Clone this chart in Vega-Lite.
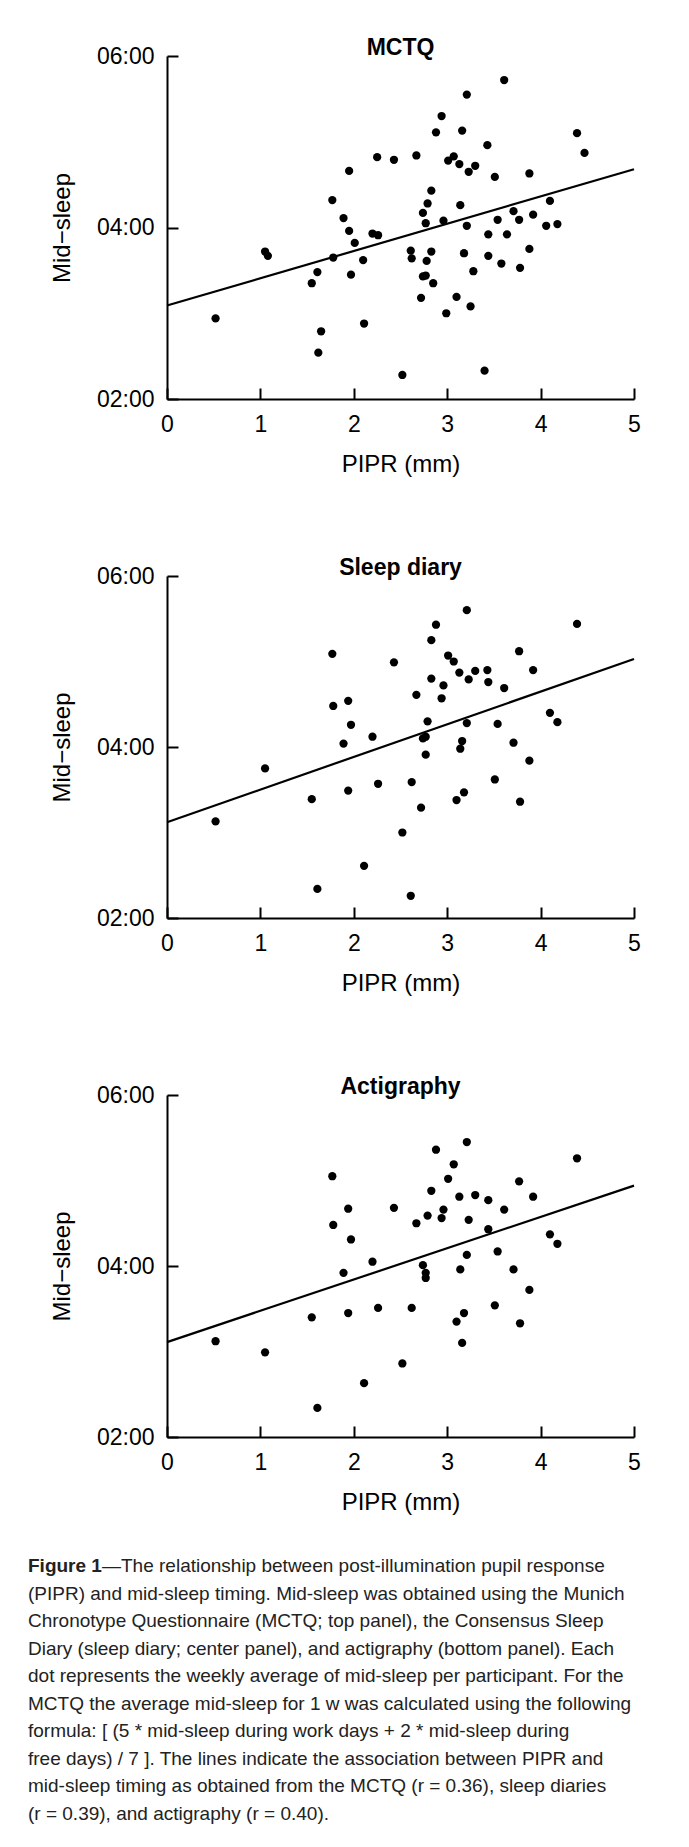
{
  "$schema": "https://vega.github.io/schema/vega-lite/v6.json",
  "background": "white",
  "padding": {"left": 28, "top": 37, "right": 8, "bottom": 6},
  "datasets": {
    "points": [
      {"method": "MCTQ", "pipr": 0.52, "mid": 2.94},
      {"method": "MCTQ", "pipr": 1.05, "mid": 3.72},
      {"method": "MCTQ", "pipr": 1.08, "mid": 3.67},
      {"method": "MCTQ", "pipr": 1.55, "mid": 3.35},
      {"method": "MCTQ", "pipr": 1.61, "mid": 3.48},
      {"method": "MCTQ", "pipr": 1.65, "mid": 2.79},
      {"method": "MCTQ", "pipr": 1.62, "mid": 2.54},
      {"method": "MCTQ", "pipr": 1.77, "mid": 4.32},
      {"method": "MCTQ", "pipr": 1.78, "mid": 3.65},
      {"method": "MCTQ", "pipr": 1.89, "mid": 4.11},
      {"method": "MCTQ", "pipr": 1.95, "mid": 4.66},
      {"method": "MCTQ", "pipr": 1.95, "mid": 3.96},
      {"method": "MCTQ", "pipr": 2.01, "mid": 3.82},
      {"method": "MCTQ", "pipr": 1.97, "mid": 3.45},
      {"method": "MCTQ", "pipr": 2.10, "mid": 3.62},
      {"method": "MCTQ", "pipr": 2.11, "mid": 2.88},
      {"method": "MCTQ", "pipr": 2.20, "mid": 3.93},
      {"method": "MCTQ", "pipr": 2.26, "mid": 3.91},
      {"method": "MCTQ", "pipr": 2.25, "mid": 4.82},
      {"method": "MCTQ", "pipr": 2.43, "mid": 4.79},
      {"method": "MCTQ", "pipr": 2.52, "mid": 2.28},
      {"method": "MCTQ", "pipr": 2.67, "mid": 4.84},
      {"method": "MCTQ", "pipr": 2.61, "mid": 3.73},
      {"method": "MCTQ", "pipr": 2.62, "mid": 3.64},
      {"method": "MCTQ", "pipr": 2.83, "mid": 4.43},
      {"method": "MCTQ", "pipr": 2.79, "mid": 4.28},
      {"method": "MCTQ", "pipr": 2.74, "mid": 4.17},
      {"method": "MCTQ", "pipr": 2.77, "mid": 4.05},
      {"method": "MCTQ", "pipr": 2.83, "mid": 3.72},
      {"method": "MCTQ", "pipr": 2.78, "mid": 3.61},
      {"method": "MCTQ", "pipr": 2.74, "mid": 3.43},
      {"method": "MCTQ", "pipr": 2.77, "mid": 3.44},
      {"method": "MCTQ", "pipr": 2.85, "mid": 3.35},
      {"method": "MCTQ", "pipr": 2.72, "mid": 3.18},
      {"method": "MCTQ", "pipr": 2.88, "mid": 5.11},
      {"method": "MCTQ", "pipr": 2.94, "mid": 5.30},
      {"method": "MCTQ", "pipr": 2.96, "mid": 4.08},
      {"method": "MCTQ", "pipr": 2.99, "mid": 3.00},
      {"method": "MCTQ", "pipr": 3.10, "mid": 3.19},
      {"method": "MCTQ", "pipr": 3.01, "mid": 4.78},
      {"method": "MCTQ", "pipr": 3.07, "mid": 4.83},
      {"method": "MCTQ", "pipr": 3.13, "mid": 4.74},
      {"method": "MCTQ", "pipr": 3.16, "mid": 5.13},
      {"method": "MCTQ", "pipr": 3.21, "mid": 5.55},
      {"method": "MCTQ", "pipr": 3.14, "mid": 4.26},
      {"method": "MCTQ", "pipr": 3.21, "mid": 4.02},
      {"method": "MCTQ", "pipr": 3.18, "mid": 3.70},
      {"method": "MCTQ", "pipr": 3.25, "mid": 3.08},
      {"method": "MCTQ", "pipr": 3.28, "mid": 3.49},
      {"method": "MCTQ", "pipr": 3.23, "mid": 4.65},
      {"method": "MCTQ", "pipr": 3.30, "mid": 4.72},
      {"method": "MCTQ", "pipr": 3.40, "mid": 2.33},
      {"method": "MCTQ", "pipr": 3.43, "mid": 4.96},
      {"method": "MCTQ", "pipr": 3.44, "mid": 3.92},
      {"method": "MCTQ", "pipr": 3.44, "mid": 3.67},
      {"method": "MCTQ", "pipr": 3.51, "mid": 4.59},
      {"method": "MCTQ", "pipr": 3.54, "mid": 4.09},
      {"method": "MCTQ", "pipr": 3.58, "mid": 3.58},
      {"method": "MCTQ", "pipr": 3.61, "mid": 5.72},
      {"method": "MCTQ", "pipr": 3.64, "mid": 3.92},
      {"method": "MCTQ", "pipr": 3.71, "mid": 4.19},
      {"method": "MCTQ", "pipr": 3.77, "mid": 4.09},
      {"method": "MCTQ", "pipr": 3.78, "mid": 3.53},
      {"method": "MCTQ", "pipr": 3.88, "mid": 4.63},
      {"method": "MCTQ", "pipr": 3.88, "mid": 3.75},
      {"method": "MCTQ", "pipr": 3.92, "mid": 4.15},
      {"method": "MCTQ", "pipr": 4.06, "mid": 4.02},
      {"method": "MCTQ", "pipr": 4.10, "mid": 4.31},
      {"method": "MCTQ", "pipr": 4.18, "mid": 4.04},
      {"method": "MCTQ", "pipr": 4.39, "mid": 5.10},
      {"method": "MCTQ", "pipr": 4.47, "mid": 4.87},

      {"method": "Diary", "pipr": 0.52, "mid": 3.13},
      {"method": "Diary", "pipr": 1.05, "mid": 3.75},
      {"method": "Diary", "pipr": 1.55, "mid": 3.39},
      {"method": "Diary", "pipr": 1.61, "mid": 2.34},
      {"method": "Diary", "pipr": 1.77, "mid": 5.09},
      {"method": "Diary", "pipr": 1.78, "mid": 4.48},
      {"method": "Diary", "pipr": 1.94, "mid": 4.54},
      {"method": "Diary", "pipr": 1.97, "mid": 4.26},
      {"method": "Diary", "pipr": 1.89, "mid": 4.04},
      {"method": "Diary", "pipr": 1.94, "mid": 3.49},
      {"method": "Diary", "pipr": 2.20, "mid": 4.12},
      {"method": "Diary", "pipr": 2.26, "mid": 3.57},
      {"method": "Diary", "pipr": 2.11, "mid": 2.61},
      {"method": "Diary", "pipr": 2.43, "mid": 4.99},
      {"method": "Diary", "pipr": 2.52, "mid": 3.00},
      {"method": "Diary", "pipr": 2.62, "mid": 3.59},
      {"method": "Diary", "pipr": 2.61, "mid": 2.26},
      {"method": "Diary", "pipr": 2.67, "mid": 4.61},
      {"method": "Diary", "pipr": 2.83, "mid": 5.25},
      {"method": "Diary", "pipr": 2.88, "mid": 5.43},
      {"method": "Diary", "pipr": 2.83, "mid": 4.80},
      {"method": "Diary", "pipr": 2.79, "mid": 4.30},
      {"method": "Diary", "pipr": 2.74, "mid": 4.10},
      {"method": "Diary", "pipr": 2.77, "mid": 4.12},
      {"method": "Diary", "pipr": 2.77, "mid": 3.91},
      {"method": "Diary", "pipr": 2.72, "mid": 3.29},
      {"method": "Diary", "pipr": 2.94, "mid": 4.57},
      {"method": "Diary", "pipr": 2.96, "mid": 4.72},
      {"method": "Diary", "pipr": 3.01, "mid": 5.07},
      {"method": "Diary", "pipr": 3.07, "mid": 5.00},
      {"method": "Diary", "pipr": 3.13, "mid": 4.87},
      {"method": "Diary", "pipr": 3.21, "mid": 5.60},
      {"method": "Diary", "pipr": 3.23, "mid": 4.79},
      {"method": "Diary", "pipr": 3.30, "mid": 4.89},
      {"method": "Diary", "pipr": 3.21, "mid": 4.28},
      {"method": "Diary", "pipr": 3.16, "mid": 4.07},
      {"method": "Diary", "pipr": 3.14, "mid": 3.98},
      {"method": "Diary", "pipr": 3.18, "mid": 3.47},
      {"method": "Diary", "pipr": 3.10, "mid": 3.38},
      {"method": "Diary", "pipr": 3.43, "mid": 4.90},
      {"method": "Diary", "pipr": 3.44, "mid": 4.76},
      {"method": "Diary", "pipr": 3.61, "mid": 4.69},
      {"method": "Diary", "pipr": 3.54, "mid": 4.27},
      {"method": "Diary", "pipr": 3.51, "mid": 3.62},
      {"method": "Diary", "pipr": 3.77, "mid": 5.12},
      {"method": "Diary", "pipr": 3.71, "mid": 4.05},
      {"method": "Diary", "pipr": 3.78, "mid": 3.36},
      {"method": "Diary", "pipr": 3.92, "mid": 4.90},
      {"method": "Diary", "pipr": 3.88, "mid": 3.84},
      {"method": "Diary", "pipr": 4.10, "mid": 4.40},
      {"method": "Diary", "pipr": 4.18, "mid": 4.29},
      {"method": "Diary", "pipr": 4.39, "mid": 5.44},

      {"method": "Acti", "pipr": 0.52, "mid": 3.12},
      {"method": "Acti", "pipr": 1.05, "mid": 2.99},
      {"method": "Acti", "pipr": 1.55, "mid": 3.40},
      {"method": "Acti", "pipr": 1.61, "mid": 2.34},
      {"method": "Acti", "pipr": 1.77, "mid": 5.05},
      {"method": "Acti", "pipr": 1.94, "mid": 4.67},
      {"method": "Acti", "pipr": 1.78, "mid": 4.48},
      {"method": "Acti", "pipr": 1.97, "mid": 4.31},
      {"method": "Acti", "pipr": 1.89, "mid": 3.92},
      {"method": "Acti", "pipr": 1.94, "mid": 3.45},
      {"method": "Acti", "pipr": 2.20, "mid": 4.05},
      {"method": "Acti", "pipr": 2.26, "mid": 3.51},
      {"method": "Acti", "pipr": 2.11, "mid": 2.63},
      {"method": "Acti", "pipr": 2.43, "mid": 4.68},
      {"method": "Acti", "pipr": 2.52, "mid": 2.86},
      {"method": "Acti", "pipr": 2.62, "mid": 3.51},
      {"method": "Acti", "pipr": 2.67, "mid": 4.50},
      {"method": "Acti", "pipr": 2.79, "mid": 4.59},
      {"method": "Acti", "pipr": 2.83, "mid": 4.88},
      {"method": "Acti", "pipr": 2.88, "mid": 5.36},
      {"method": "Acti", "pipr": 2.74, "mid": 4.01},
      {"method": "Acti", "pipr": 2.77, "mid": 3.92},
      {"method": "Acti", "pipr": 2.77, "mid": 3.86},
      {"method": "Acti", "pipr": 2.94, "mid": 4.56},
      {"method": "Acti", "pipr": 2.96, "mid": 4.66},
      {"method": "Acti", "pipr": 3.01, "mid": 5.02},
      {"method": "Acti", "pipr": 3.07, "mid": 5.19},
      {"method": "Acti", "pipr": 3.21, "mid": 5.45},
      {"method": "Acti", "pipr": 3.13, "mid": 4.81},
      {"method": "Acti", "pipr": 3.23, "mid": 4.54},
      {"method": "Acti", "pipr": 3.30, "mid": 4.83},
      {"method": "Acti", "pipr": 3.21, "mid": 4.13},
      {"method": "Acti", "pipr": 3.14, "mid": 3.96},
      {"method": "Acti", "pipr": 3.18, "mid": 3.45},
      {"method": "Acti", "pipr": 3.10, "mid": 3.35},
      {"method": "Acti", "pipr": 3.16, "mid": 3.10},
      {"method": "Acti", "pipr": 3.44, "mid": 4.77},
      {"method": "Acti", "pipr": 3.44, "mid": 4.43},
      {"method": "Acti", "pipr": 3.61, "mid": 4.66},
      {"method": "Acti", "pipr": 3.54, "mid": 4.17},
      {"method": "Acti", "pipr": 3.51, "mid": 3.54},
      {"method": "Acti", "pipr": 3.77, "mid": 4.99},
      {"method": "Acti", "pipr": 3.71, "mid": 3.96},
      {"method": "Acti", "pipr": 3.78, "mid": 3.33},
      {"method": "Acti", "pipr": 3.92, "mid": 4.81},
      {"method": "Acti", "pipr": 3.88, "mid": 3.72},
      {"method": "Acti", "pipr": 4.10, "mid": 4.37},
      {"method": "Acti", "pipr": 4.18, "mid": 4.26},
      {"method": "Acti", "pipr": 4.39, "mid": 5.26}
    ],
    "fits": [
      {"method": "MCTQ", "pipr": 0, "mid": 3.09},
      {"method": "MCTQ", "pipr": 5, "mid": 4.68},
      {"method": "Diary", "pipr": 0, "mid": 3.12},
      {"method": "Diary", "pipr": 5, "mid": 5.03},
      {"method": "Acti", "pipr": 0, "mid": 3.11},
      {"method": "Acti", "pipr": 5, "mid": 4.94}
    ],
    "caption": [
      {"line": 1, "part": "bold", "text": "Figure 1"},
      {"line": 1, "part": "first", "text": "—The relationship between post-illumination pupil response"},
      {"line": 2, "part": "body", "text": "(PIPR) and mid-sleep timing. Mid-sleep was obtained using the Munich"},
      {"line": 3, "part": "body", "text": "Chronotype Questionnaire (MCTQ; top panel), the Consensus Sleep"},
      {"line": 4, "part": "body", "text": "Diary (sleep diary; center panel), and actigraphy (bottom panel). Each"},
      {"line": 5, "part": "body", "text": "dot represents the weekly average of mid-sleep per participant. For the"},
      {"line": 6, "part": "body", "text": "MCTQ the average mid-sleep for 1 w was calculated using the following"},
      {"line": 7, "part": "body", "text": "formula: [ (5 * mid-sleep during work days + 2 * mid-sleep during"},
      {"line": 8, "part": "body", "text": "free days) / 7 ]. The lines indicate the association between PIPR and"},
      {"line": 9, "part": "body", "text": "mid-sleep timing as obtained from the MCTQ (r = 0.36), sleep diaries"},
      {"line": 10, "part": "body", "text": "(r = 0.39), and actigraphy (r = 0.40)."}
    ]
  },
  "config": {
    "view": {"stroke": null},
    "font": "Liberation Sans",
    "axis": {
      "domainColor": "black", "domainWidth": 2,
      "tickColor": "black", "tickWidth": 2, "tickSize": -11,
      "labelFont": "Liberation Sans", "labelFontSize": 23, "labelColor": "black", "labelFlush": false,
      "titleFont": "Liberation Sans", "titleFontSize": 24, "titleFontWeight": "normal", "titleColor": "black",
      "grid": false, "labelPadding": 24
    },
    "axisX": {"titlePadding": 16, "labelPadding": 25},
    "axisY": {"titlePadding": 22},
    "title": {"font": "Liberation Sans", "fontSize": 23, "fontWeight": "bold", "color": "black", "frame": "group", "anchor": "middle", "baseline": "alphabetic", "offset": -15}
  },
  "spacing": 177,
  "bounds": "flush",
  "vconcat": [
    {
      "title": "MCTQ",
      "width": 467, "height": 343,
      "layer": [
        {
          "data": {"name": "points"},
          "transform": [{"filter": "datum.method === 'MCTQ'"}],
          "mark": {"type": "circle", "size": 68, "opacity": 1, "color": "black"},
          "encoding": {
            "x": {"field": "pipr", "type": "quantitative", "scale": {"domain": [0, 5], "nice": false}, "axis": {"values": [0, 1, 2, 3, 4, 5], "format": "d", "title": "PIPR (mm)"}},
            "y": {"field": "mid", "type": "quantitative", "scale": {"domain": [2, 6], "nice": false, "zero": false}, "axis": {"values": [2, 4, 6], "labelExpr": "'0' + datum.value + ':00'", "title": "Mid−sleep"}}
          }
        },
        {
          "data": {"name": "fits"},
          "transform": [{"filter": "datum.method === 'MCTQ'"}],
          "mark": {"type": "line", "color": "black", "strokeWidth": 2.2},
          "encoding": {
            "x": {"field": "pipr", "type": "quantitative"},
            "y": {"field": "mid", "type": "quantitative"}
          }
        }
      ]
    },
    {
      "title": "Sleep diary",
      "width": 467, "height": 342,
      "layer": [
        {
          "data": {"name": "points"},
          "transform": [{"filter": "datum.method === 'Diary'"}],
          "mark": {"type": "circle", "size": 68, "opacity": 1, "color": "black"},
          "encoding": {
            "x": {"field": "pipr", "type": "quantitative", "scale": {"domain": [0, 5], "nice": false}, "axis": {"values": [0, 1, 2, 3, 4, 5], "format": "d", "title": "PIPR (mm)"}},
            "y": {"field": "mid", "type": "quantitative", "scale": {"domain": [2, 6], "nice": false, "zero": false}, "axis": {"values": [2, 4, 6], "labelExpr": "'0' + datum.value + ':00'", "title": "Mid−sleep"}}
          }
        },
        {
          "data": {"name": "fits"},
          "transform": [{"filter": "datum.method === 'Diary'"}],
          "mark": {"type": "line", "color": "black", "strokeWidth": 2.2},
          "encoding": {
            "x": {"field": "pipr", "type": "quantitative"},
            "y": {"field": "mid", "type": "quantitative"}
          }
        }
      ]
    },
    {
      "title": "Actigraphy",
      "width": 467, "height": 342,
      "layer": [
        {
          "data": {"name": "points"},
          "transform": [{"filter": "datum.method === 'Acti'"}],
          "mark": {"type": "circle", "size": 68, "opacity": 1, "color": "black"},
          "encoding": {
            "x": {"field": "pipr", "type": "quantitative", "scale": {"domain": [0, 5], "nice": false}, "axis": {"values": [0, 1, 2, 3, 4, 5], "format": "d", "title": "PIPR (mm)"}},
            "y": {"field": "mid", "type": "quantitative", "scale": {"domain": [2, 6], "nice": false, "zero": false}, "axis": {"values": [2, 4, 6], "labelExpr": "'0' + datum.value + ':00'", "title": "Mid−sleep"}}
          }
        },
        {
          "data": {"name": "fits"},
          "transform": [{"filter": "datum.method === 'Acti'"}],
          "mark": {"type": "line", "color": "black", "strokeWidth": 2.2},
          "encoding": {
            "x": {"field": "pipr", "type": "quantitative"},
            "y": {"field": "mid", "type": "quantitative"}
          }
        }
      ]
    },
    {
      "width": 467, "height": 200,
      "data": {"name": "caption"},
      "encoding": {
        "y": {"field": "line", "type": "ordinal", "scale": {"type": "point", "padding": 0, "range": [-48, 199.5]}, "axis": null},
        "text": {"field": "text"}
      },
      "layer": [
        {
          "transform": [{"filter": "datum.part === 'bold'"}],
          "mark": {"type": "text", "align": "left", "baseline": "middle", "x": 0, "dx": -139, "font": "Liberation Sans", "fontSize": 19, "fontWeight": "bold", "color": "#222"}
        },
        {
          "transform": [{"filter": "datum.part === 'first'"}],
          "mark": {"type": "text", "align": "left", "baseline": "middle", "x": 0, "dx": -65, "font": "Liberation Sans", "fontSize": 19, "color": "#222"}
        },
        {
          "transform": [{"filter": "datum.part === 'body'"}],
          "mark": {"type": "text", "align": "left", "baseline": "middle", "x": 0, "dx": -139, "font": "Liberation Sans", "fontSize": 19, "color": "#222"}
        }
      ]
    }
  ]
}
